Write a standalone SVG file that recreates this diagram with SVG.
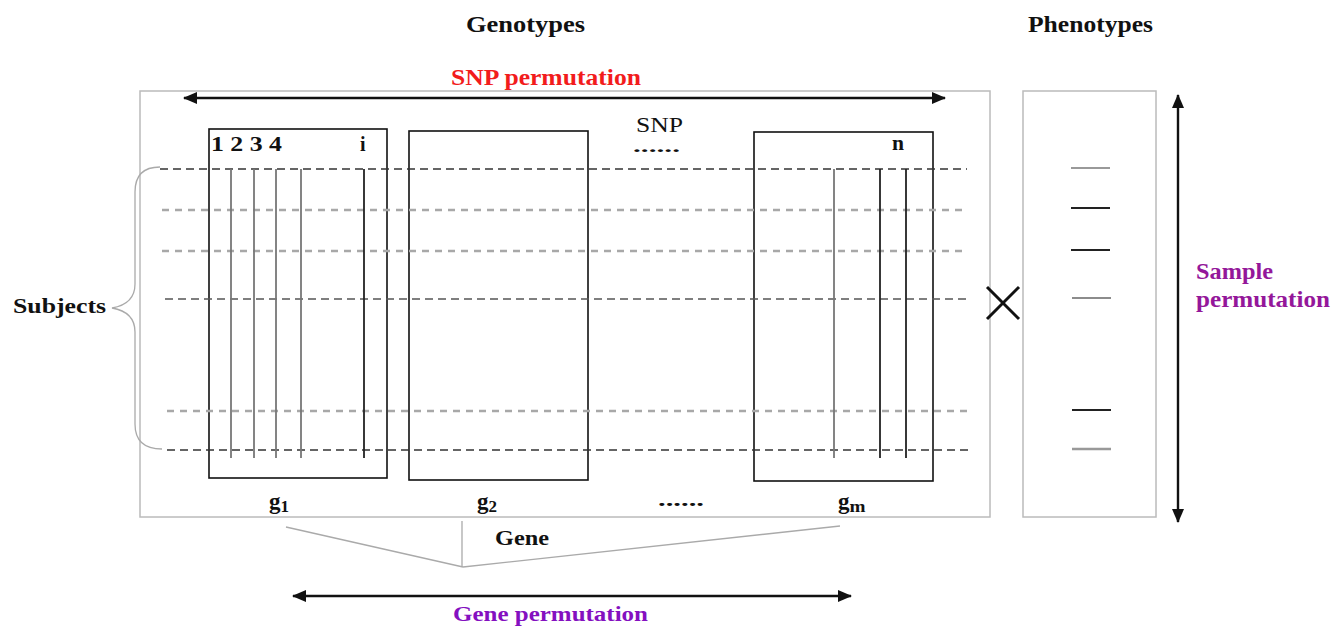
<svg xmlns="http://www.w3.org/2000/svg" width="1331" height="627" viewBox="0 0 1331 627">
<style>
text{font-family:"Liberation Serif","Times New Roman",serif;font-weight:bold;fill:#111}
.frame{fill:none;stroke:#bbb;stroke-width:1.5}
.gbox{fill:#fff;stroke:#111;stroke-width:1.6}
.dk{stroke:#333;stroke-width:1.5;stroke-dasharray:8 5;fill:none}
.gr{stroke:#a8a8a8;stroke-width:2.5;stroke-dasharray:7 6;fill:none}
.md{stroke:#555;stroke-width:1.5;stroke-dasharray:8 5;fill:none}
.vg{stroke:#777;stroke-width:1.8}
.vk{stroke:#222;stroke-width:1.8}
.arr{stroke:#111;stroke-width:2.4;fill:none}
.thin{stroke:#aaa;stroke-width:1.3;fill:none}
.red{fill:#f21c1c}
.pur{fill:#94179a}
.vio{fill:#8410c0}
</style>
<defs>
<marker id="ah" viewBox="0 0 14 12" refX="13" refY="6" markerWidth="14" markerHeight="12" markerUnits="userSpaceOnUse" orient="auto-start-reverse">
<path d="M0,0 L14,6 L0,12 Z" fill="#111"/>
</marker>
</defs>

<g id="titles">
<text x="466" y="32" font-size="24" textLength="119" lengthAdjust="spacingAndGlyphs">Genotypes</text>
<text x="1028" y="32" font-size="24" textLength="125" lengthAdjust="spacingAndGlyphs">Phenotypes</text>
</g>

<g id="genotype-frame">
<rect class="frame" x="140" y="91" width="850" height="426"/>
</g>
<g id="phenotype-frame">
<rect class="frame" x="1023" y="91" width="133" height="426"/>
</g>

<g id="gene-g1">
<rect class="gbox" x="209" y="129" width="178" height="349"/>
<text x="211" y="151" font-size="20" textLength="71" lengthAdjust="spacingAndGlyphs">1 2 3 4</text>
<text x="360" y="151" font-size="20">i</text>
</g>
<g id="gene-g2">
<rect class="gbox" x="409" y="131" width="179" height="349"/>
</g>
<g id="gene-gm">
<rect class="gbox" x="754" y="132" width="179" height="349"/>
<text x="892" y="150" font-size="20" textLength="12" lengthAdjust="spacingAndGlyphs">n</text>
</g>

<g id="snp-label">
<text x="636" y="132" font-size="22" textLength="47" lengthAdjust="spacingAndGlyphs" style="font-weight:normal">SNP</text>
<text x="633" y="152" font-size="16" textLength="47" lengthAdjust="spacingAndGlyphs">......</text>
</g>

<g id="subject-rows">
<line class="dk" x1="160" y1="169" x2="967" y2="169"/>
<line class="gr" x1="162" y1="210" x2="967" y2="210"/>
<line class="gr" x1="162" y1="251" x2="967" y2="251"/>
<line class="md" x1="165" y1="299" x2="967" y2="299"/>
<line class="gr" x1="167" y1="411" x2="970" y2="411"/>
<line class="dk" x1="167" y1="450" x2="970" y2="450"/>
</g>

<g id="snp-columns">
<line class="vg" x1="231" y1="169" x2="231" y2="458"/>
<line class="vg" x1="254" y1="169" x2="254" y2="458"/>
<line class="vg" x1="276" y1="169" x2="276" y2="458"/>
<line class="vg" x1="301" y1="169" x2="301" y2="458"/>
<line class="vk" x1="364" y1="169" x2="364" y2="458"/>
<line class="vg" x1="834" y1="169" x2="834" y2="458"/>
<line class="vk" x1="880" y1="169" x2="880" y2="458"/>
<line class="vk" x1="906" y1="169" x2="906" y2="458" stroke="#444"/>
</g>

<g id="subjects">
<path class="thin" d="M160,167 Q135,167 135,192 L135,284 Q135,304 112,308 Q135,312 135,332 L135,424 Q135,449 162,449"/>
<text x="13" y="313" font-size="21" textLength="93" lengthAdjust="spacingAndGlyphs">Subjects</text>
</g>

<g id="gene-labels">
<text x="269" y="509" font-size="23">g<tspan font-size="17" dy="3">1</tspan></text>
<text x="477" y="509" font-size="23">g<tspan font-size="17" dy="3">2</tspan></text>
<text x="658" y="506" font-size="18" textLength="46" lengthAdjust="spacingAndGlyphs">......</text>
<text x="838" y="509" font-size="23">g<tspan font-size="17" dy="3" textLength="16" lengthAdjust="spacingAndGlyphs">m</tspan></text>
</g>

<g id="times">
<line x1="987" y1="287" x2="1019" y2="319" stroke="#111" stroke-width="3"/>
<line x1="987" y1="319" x2="1019" y2="287" stroke="#111" stroke-width="3"/>
</g>

<g id="phenotype-values">
<line x1="1071" y1="168" x2="1110" y2="168" stroke="#999" stroke-width="2"/>
<line x1="1071" y1="208" x2="1110" y2="208" stroke="#222" stroke-width="1.8"/>
<line x1="1071" y1="250" x2="1110" y2="250" stroke="#222" stroke-width="1.8"/>
<line x1="1072" y1="298" x2="1111" y2="298" stroke="#666" stroke-width="1.5"/>
<line x1="1072" y1="410" x2="1111" y2="410" stroke="#222" stroke-width="1.8"/>
<line x1="1072" y1="449" x2="1111" y2="449" stroke="#999" stroke-width="2.6"/>
</g>

<g id="gene-fan">
<line class="thin" x1="286" y1="527" x2="463" y2="567"/>
<line class="thin" x1="463" y1="567" x2="840" y2="526"/>
<line class="thin" x1="462" y1="521" x2="462" y2="567"/>
<text x="495" y="545" font-size="20" textLength="54" lengthAdjust="spacingAndGlyphs">Gene</text>
</g>

<g id="connectors">
<line class="arr" x1="184" y1="98" x2="945" y2="98" marker-start="url(#ah)" marker-end="url(#ah)"/>
<line class="arr" x1="1178" y1="95" x2="1178" y2="522" marker-start="url(#ah)" marker-end="url(#ah)"/>
<line class="arr" x1="293" y1="596" x2="851" y2="596" stroke="#333" marker-start="url(#ah)" marker-end="url(#ah)"/>
</g>

<g id="permutation-labels">
<text class="red" x="451" y="85" font-size="23" textLength="190" lengthAdjust="spacingAndGlyphs">SNP permutation</text>
<text class="pur" x="1196" y="279" font-size="24" textLength="77" lengthAdjust="spacingAndGlyphs">Sample</text>
<text class="pur" x="1196" y="307" font-size="24" textLength="134" lengthAdjust="spacingAndGlyphs">permutation</text>
<text class="vio" x="453" y="621" font-size="22" textLength="195" lengthAdjust="spacingAndGlyphs">Gene permutation</text>
</g>
</svg>
